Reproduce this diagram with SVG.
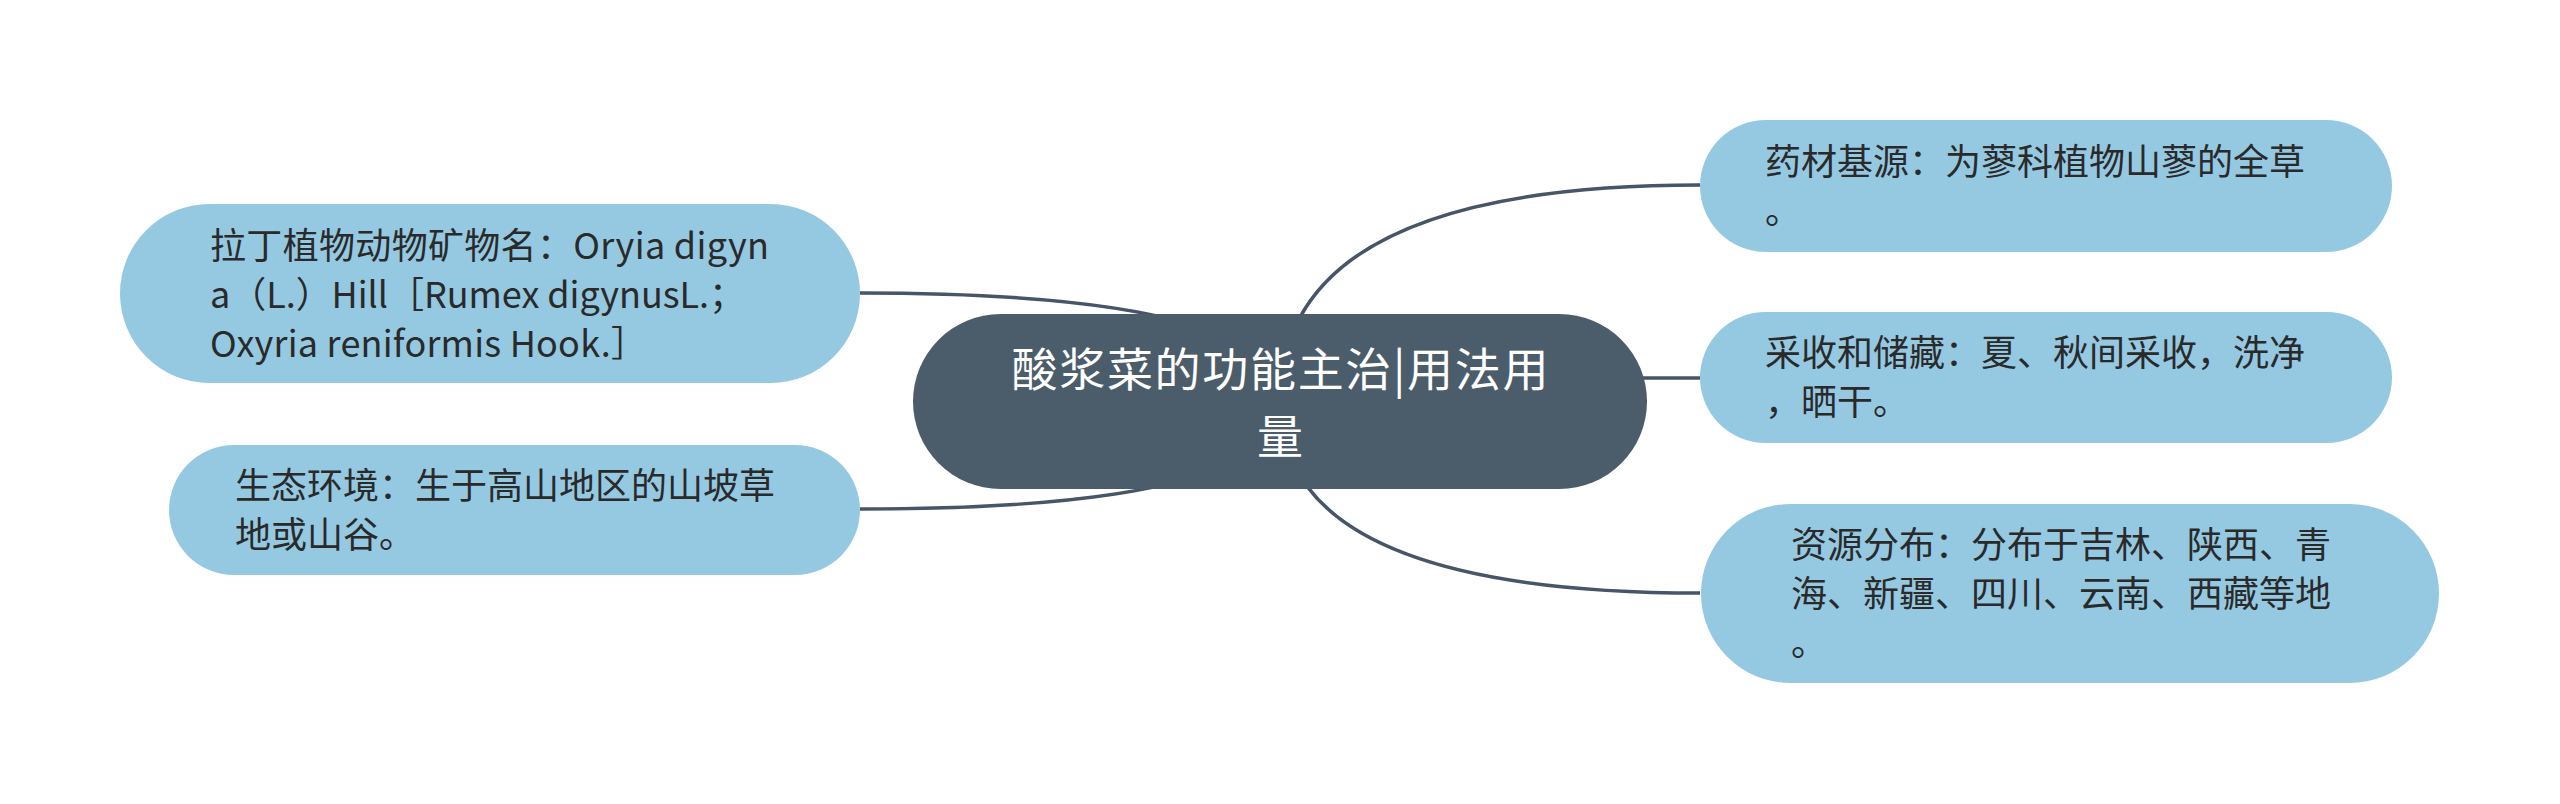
<svg xmlns="http://www.w3.org/2000/svg" width="2560" height="804" viewBox="0 0 2560 804">
<style>
.leaf{fill:#95c9e2;}
.root{fill:#4b5c6b;}
.lt{font-family:"Noto Sans CJK SC","Noto Sans",sans-serif;font-size:36px;fill:#2a2a2a;}
.rt{font-family:"Noto Sans CJK SC","Noto Sans",sans-serif;font-size:46px;fill:#ffffff;text-anchor:middle;}
.con{fill:none;stroke:#465668;stroke-width:3.5;}
</style>
<rect width="2560" height="804" fill="#ffffff"/>
<g id="connectors">
<path class="con" d="M1280,401.5 Q1280,185 1700,185"/>
<path class="con" d="M1280,378 L1700,378"/>
<path class="con" d="M1280,401.5 Q1280,593 1700,593"/>
<path class="con" d="M1280,401.5 Q1280,293 860,293"/>
<path class="con" d="M1280,401.5 Q1280,509 860,509"/>
</g>
<g id="root">
<rect class="root" x="913" y="314" width="734" height="175" rx="87.5"/>
<text class="rt" x="1280" y="386" textLength="537" lengthAdjust="spacing">酸浆菜的功能主治|用法用</text>
<text class="rt" x="1280" y="453">量</text>
</g>
<g id="node-latin">
<rect class="leaf" x="120" y="204" width="740" height="179" rx="89.5"/>
<text class="lt" x="210" y="259" textLength="559" lengthAdjust="spacing">拉丁植物动物矿物名：Oryia digyn</text>
<text class="lt" x="210" y="308" textLength="535" lengthAdjust="spacing">a（L.）Hill［Rumex digynusL.；</text>
<text class="lt" x="210" y="357" textLength="437" lengthAdjust="spacing">Oxyria reniformis Hook.］</text>
</g>
<g id="node-habitat">
<rect class="leaf" x="169" y="445" width="691" height="130" rx="65"/>
<text class="lt"><tspan x="235" y="499">生态环境：生于高山地区的山坡草</tspan><tspan x="235" y="548">地或山谷。</tspan></text>
</g>
<g id="node-source">
<rect class="leaf" x="1700" y="120" width="692" height="132" rx="66"/>
<text class="lt"><tspan x="1765" y="175">药材基源：为蓼科植物山蓼的全草</tspan><tspan x="1765" y="224">。</tspan></text>
</g>
<g id="node-harvest">
<rect class="leaf" x="1700" y="312" width="692" height="131" rx="65.5"/>
<text class="lt"><tspan x="1765" y="366">采收和储藏：夏、秋间采收，洗净</tspan><tspan x="1765" y="415">，晒干。</tspan></text>
</g>
<g id="node-distribution">
<rect class="leaf" x="1701" y="504" width="738" height="179" rx="89.5"/>
<text class="lt"><tspan x="1791" y="558">资源分布：分布于吉林、陕西、青</tspan><tspan x="1791" y="607">海、新疆、四川、云南、西藏等地</tspan><tspan x="1791" y="656">。</tspan></text>
</g>
</svg>
